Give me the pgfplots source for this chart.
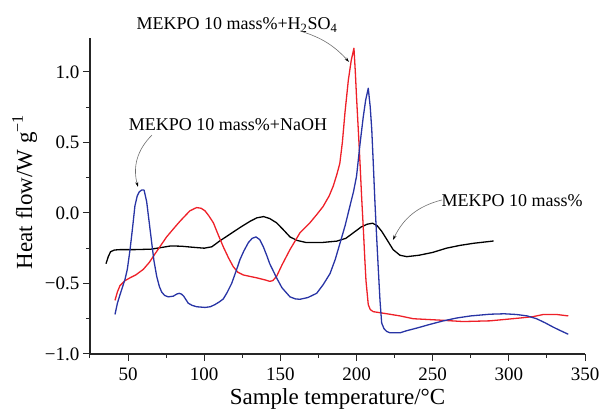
\documentclass[border=0pt]{standalone}
\usepackage{pgfplots}
\pgfplotsset{compat=1.18}
\usepackage{fontspec}
\setmainfont{Liberation Serif}
\usetikzlibrary{arrows.meta}
\definecolor{cred}{RGB}{238,32,40}
\definecolor{cblue}{RGB}{40,52,165}
\definecolor{cgray}{RGB}{110,110,110}
\begin{document}
\begin{tikzpicture}
\useasboundingbox (0,0) rectangle (603pt,411pt);
\begin{axis}[
  at={(90pt,57pt)}, anchor=south west,
  scale only axis, width=495pt, height=316pt,
  xmin=25, xmax=350, ymin=-1.0, ymax=1.24,
  enlargelimits=false, clip=false,
  axis x line*=bottom, axis y line*=left,
  axis line style={-, line width=1.1pt, black!85},
  tick style={line width=1pt, black!85},
  tick align=outside,
  major tick length=7pt, minor tick length=4pt,
  xtick={50,100,150,200,250,300,350},
  minor xtick={25,75,125,175,225,275,325},
  ytick={-1,-0.5,0,0.5,1},
  yticklabels={−1.0,−0.5,0.0,0.5,1.0},
  minor ytick={-0.75,-0.25,0.25,0.75},
  /pgf/number format/assume math mode=true,
  ticklabel style={font=\fontsize{19}{22}\selectfont},
  xticklabel style={yshift=-3pt},
  xlabel={Sample temperature/°C},
  ylabel={Heat flow/W g\textsuperscript{−1}},
  label style={font=\fontsize{23}{26}\selectfont},
  xlabel style={at={(axis description cs:0.5,-0.161)}, anchor=base},
  ylabel style={at={(axis description cs:-0.132,0.513)}, anchor=center},
  every axis plot/.append style={line width=1.3pt, line join=round},
]
% Black: MEKPO 10 mass%
\addplot[black] coordinates {
(35.5,-0.36) (37,-0.31) (38.5,-0.275) (41,-0.263) (45,-0.26) (55,-0.26) (65,-0.257) (72,-0.245) (78,-0.234) (85,-0.236) (92,-0.243) (100,-0.25) (105,-0.24) (110,-0.2) (117,-0.15) (124,-0.1) (130,-0.06) (134.5,-0.035) (139,-0.026) (143,-0.04) (147.5,-0.07) (152,-0.12) (156.3,-0.17) (161,-0.195) (167,-0.21) (177,-0.21) (187,-0.2) (193,-0.18) (198,-0.14) (203,-0.1) (207,-0.08) (210.5,-0.073) (213.5,-0.09) (216.5,-0.13) (220,-0.19) (224,-0.26) (228.5,-0.30) (233,-0.31) (241,-0.30) (250,-0.28) (259,-0.25) (268,-0.23) (277,-0.215) (290,-0.199)
};
% Red: +H2SO4
\addplot[cred] coordinates {
(41.4,-0.62) (43,-0.56) (44.7,-0.515) (48,-0.48) (51.3,-0.46) (55,-0.44) (60,-0.40) (64,-0.35) (67.7,-0.29) (71.5,-0.23) (75.3,-0.17) (80,-0.11) (84,-0.06) (87.5,-0.02) (90.6,0.015) (95,0.038) (98,0.033) (100.5,0.015) (103,-0.02) (106,-0.07) (109,-0.15) (112.5,-0.24) (116,-0.32) (119,-0.38) (122,-0.42) (125.7,-0.44) (130,-0.45) (134.4,-0.46) (140,-0.475) (143,-0.485) (145,-0.48) (147.5,-0.45) (151,-0.37) (156.3,-0.26) (162.9,-0.14) (169.4,-0.07) (174,-0.01) (178,0.045) (182,0.12) (184.7,0.19) (187,0.27) (189,0.35) (190.7,0.5) (192.4,0.71) (194.6,0.94) (196.5,1.08) (198.3,1.168) (199.2,1.0) (200,0.82) (201.2,0.58) (202.3,0.35) (203.4,0.1) (204.5,-0.12) (205.4,-0.32) (206.2,-0.48) (207.7,-0.65) (209,-0.685) (211,-0.70) (220,-0.715) (228.5,-0.73) (237.3,-0.75) (254.8,-0.76) (270,-0.77) (287.6,-0.765) (307.3,-0.745) (316,-0.735) (322.6,-0.72) (331.4,-0.72) (339,-0.73)
};
% Blue: +NaOH
\addplot[cblue] coordinates {
(41.4,-0.72) (43,-0.64) (44.7,-0.58) (46.5,-0.52) (48,-0.47) (49.5,-0.40) (51.3,-0.26) (53,-0.1) (54.5,0.05) (56,0.12) (57.4,0.15) (59,0.163) (60.5,0.162) (62.2,0.08) (63.8,-0.06) (65.5,-0.21) (67,-0.34) (68.8,-0.45) (70.5,-0.52) (72,-0.56) (74,-0.585) (76.4,-0.595) (79.7,-0.59) (82,-0.575) (83.6,-0.57) (85,-0.575) (86.5,-0.59) (88,-0.615) (89.5,-0.64) (92,-0.655) (95,-0.665) (100.5,-0.67) (104,-0.665) (107,-0.65) (110,-0.63) (112.5,-0.61) (115,-0.565) (118,-0.5) (121,-0.41) (123.5,-0.33) (126,-0.27) (129,-0.21) (131.5,-0.18) (134,-0.17) (136.5,-0.19) (138.8,-0.24) (141,-0.30) (143,-0.36) (147.5,-0.46) (151,-0.53) (156.3,-0.595) (160,-0.61) (162.9,-0.612) (168,-0.60) (173.8,-0.57) (178,-0.51) (182.6,-0.43) (186,-0.33) (189,-0.22) (192.5,-0.09) (195.7,0.05) (198,0.15) (200,0.26) (202.3,0.49) (204.4,0.68) (206,0.80) (207.7,0.884) (209,0.75) (210,0.59) (211,0.35) (212.1,0.07) (213.2,-0.17) (214.3,-0.40) (215.4,-0.62) (216.5,-0.78) (218,-0.82) (219.8,-0.84) (222,-0.85) (228.5,-0.85) (232.9,-0.835) (240,-0.815) (248.2,-0.79) (257,-0.765) (265.7,-0.745) (275,-0.73) (287.6,-0.718) (297,-0.715) (305,-0.72) (312,-0.73) (318.2,-0.75) (324,-0.78) (329.2,-0.81) (334,-0.835) (339,-0.86)
};
% annotations
\node[font=\fontsize{18}{21}\selectfont] at (axis cs:121.5,1.332) {MEKPO 10 mass\%+H\textsubscript{2}SO\textsubscript{4}};
\node[font=\fontsize{18}{21}\selectfont] at (axis cs:115.6,0.623) {MEKPO 10 mass\%+NaOH};
\node[font=\fontsize{18}{21}\selectfont] at (axis cs:302.1,0.085) {MEKPO 10 mass\%};
\draw[cgray, line width=0.6pt, -{Stealth[length=5pt,width=3pt,black]}] (axis cs:162.9,1.29) to[bend left=15] (axis cs:195.1,1.07);
\draw[cgray, line width=0.6pt, -{Stealth[length=5pt,width=3pt,black]}] (axis cs:65.7,0.552) to[bend right=30] (axis cs:56.5,0.184);
\draw[cgray, line width=0.6pt, -{Stealth[length=5pt,width=3pt,black]}] (axis cs:256.1,0.092) to[bend right=25] (axis cs:223.9,-0.192);
\end{axis}
\end{tikzpicture}
\end{document}
